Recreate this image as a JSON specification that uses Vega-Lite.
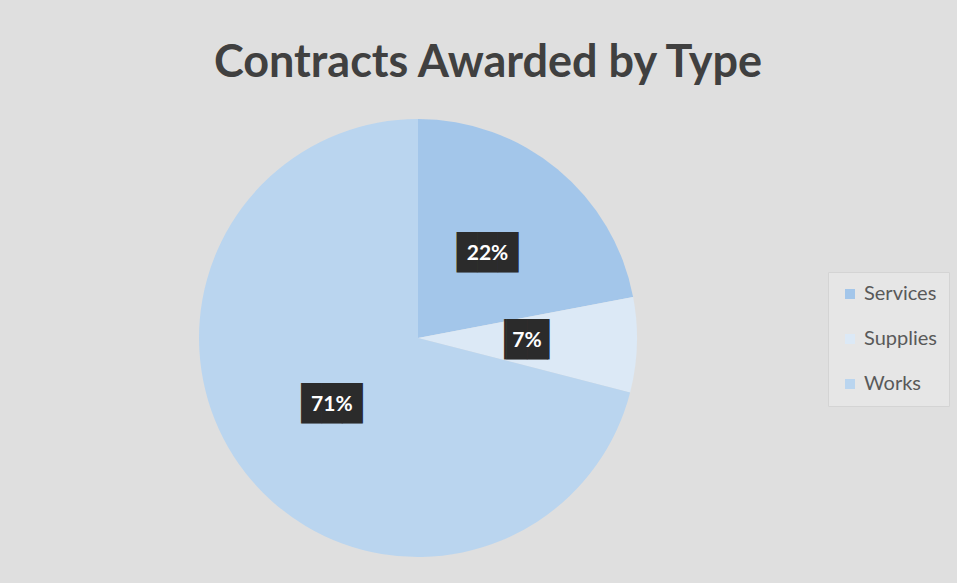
{
  "$schema": "https://vega.github.io/schema/vega-lite/v6.json",
  "width": 438,
  "height": 438,
  "autosize": {"type": "none"},
  "padding": {"left": 199, "top": 119, "right": 320, "bottom": 26},
  "background": "#dfdfdf",
  "config": {"view": {"stroke": null}},
  "title": {
    "text": "Contracts Awarded by Type",
    "font": "Lato",
    "fontSize": 45,
    "fontWeight": "bold",
    "color": "#404040",
    "anchor": "middle",
    "dx": 70,
    "offset": 33
  },
  "data": {
    "values": [
      {"type": "Services", "share": 22, "label": "22%"},
      {"type": "Supplies", "share": 7, "label": "7%"},
      {"type": "Works", "share": 71, "label": "71%"}
    ]
  },
  "encoding": {
    "theta": {"field": "share", "type": "quantitative", "stack": true}
  },
  "layer": [
    {
      "mark": {"type": "arc"},
      "encoding": {
        "color": {
          "field": "type",
          "type": "nominal",
          "scale": {
            "domain": ["Services", "Supplies", "Works"],
            "range": ["#a3c6ea", "#dce9f6", "#bad5ef"]
          },
          "legend": {
            "title": null,
            "orient": "none",
            "legendX": 629,
            "legendY": 153,
            "fillColor": "#e6e6e6",
            "strokeColor": "#d4d4d4",
            "padding": 12,
            "labelFont": "Lato",
            "labelFontSize": 20,
            "labelColor": "#595959",
            "symbolType": "square",
            "symbolSize": 100,
            "symbolStrokeWidth": 0,
            "rowPadding": 25,
            "labelOffset": 4
          }
        }
      }
    },
    {
      "mark": {"type": "text", "radius": 109, "font": "DejaVu Sans Mono", "fontSize": 34, "color": "#2b2b2b", "baseline": "middle"},
      "encoding": {
        "text": {"condition": {"test": "datum.share < 10", "value": "▕██▏"}, "value": "███"}
      }
    },
    {
      "mark": {"type": "text", "radius": 109, "font": "Lato", "fontSize": 21, "fontWeight": "bold", "color": "white", "baseline": "middle"},
      "encoding": {
        "text": {"field": "label", "type": "nominal"}
      }
    }
  ]
}
